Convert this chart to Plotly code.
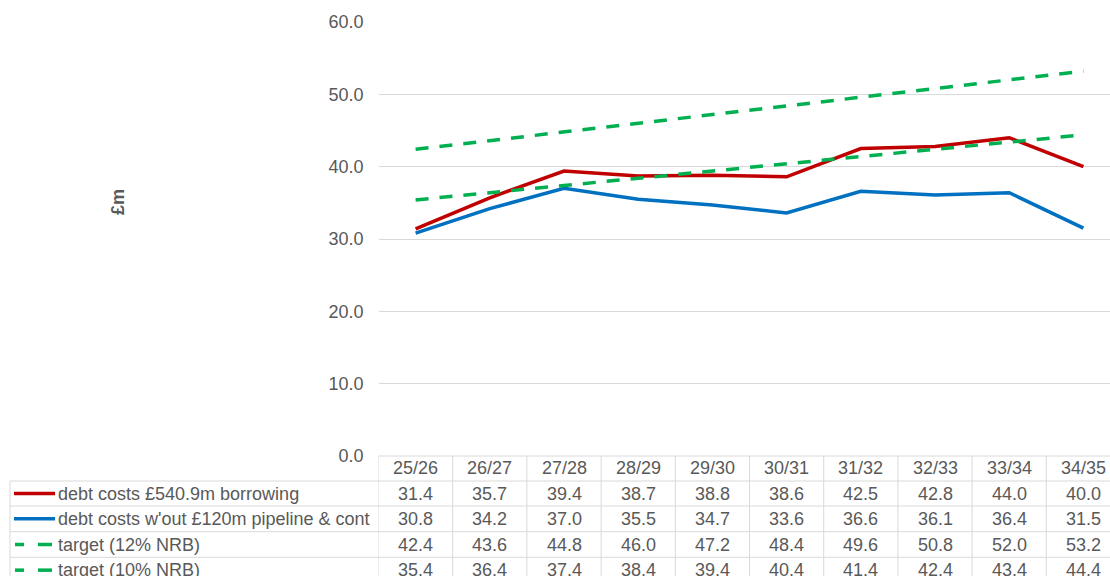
import plotly.graph_objects as go

categories = ["25/26", "26/27", "27/28", "28/29", "29/30", "30/31", "31/32", "32/33", "33/34", "34/35"]
series_names = [
    "debt costs £540.9m borrowing",
    "debt costs w'out £120m pipeline & cont",
    "target (12% NRB)",
    "target (10% NRB)",
]
debt_costs = [31.4, 35.7, 39.4, 38.7, 38.8, 38.6, 42.5, 42.8, 44.0, 40.0]
debt_costs_wout = [30.8, 34.2, 37.0, 35.5, 34.7, 33.6, 36.6, 36.1, 36.4, 31.5]
target_12 = [42.4, 43.6, 44.8, 46.0, 47.2, 48.4, 49.6, 50.8, 52.0, 53.2]
target_10 = [35.4, 36.4, 37.4, 38.4, 39.4, 40.4, 41.4, 42.4, 43.4, 44.4]
y_ticks = [0, 10, 20, 30, 40, 50, 60]

W, H = 1110, 576
FONT = "Liberation Sans, Arial, sans-serif"
FS = 18
GREY = "#595959"
GRID = "#d9d9d9"
colors = ["#C00000", "#0070C0", "#00B050", "#00B050"]
dashes = ["solid", "solid", "13px,11px", "13px,11px"]
all_series = [debt_costs, debt_costs_wout, target_12, target_10]


def px(x):
    return x / W


def py(y):
    return 1 - y / H


plot_left, plot_top, plot_bottom = 378.5, 22, 456
col_w = 74.2
x_right = (W - (plot_left + col_w / 2)) / col_w

fig = go.Figure()
for name, vals, c, d in zip(series_names, all_series, colors, dashes):
    fig.add_trace(go.Scatter(
        x=categories, y=vals, mode="lines", name=name,
        line=dict(color=c, width=3.5, dash=d), showlegend=False,
    ))

shapes = []
annotations = []

row_edges = [456, 481, 506, 531.7, 557.3, 583]
shapes.append(dict(type="line", xref="paper", yref="paper",
                   x0=px(plot_left), x1=1.0, y0=py(456), y1=py(456),
                   line=dict(color=GRID, width=1)))
for r in row_edges[1:]:
    shapes.append(dict(type="line", xref="paper", yref="paper",
                       x0=px(10), x1=1.0, y0=py(r), y1=py(r),
                       line=dict(color=GRID, width=1)))
shapes.append(dict(type="line", xref="paper", yref="paper",
                   x0=px(10), x1=px(10), y0=py(481), y1=py(583),
                   line=dict(color=GRID, width=1)))
for i in range(len(categories) + 1):
    shapes.append(dict(type="line", xref="x", yref="paper",
                       x0=i - 0.5, x1=i - 0.5, y0=py(456), y1=py(583),
                       line=dict(color=GRID, width=1)))

for c in categories:
    annotations.append(dict(x=c, xref="x", y=py(468), yref="paper",
                            text=c, showarrow=False,
                            font=dict(family=FONT, size=FS, color=GREY),
                            xanchor="center", yanchor="middle"))

for ri, (name, vals, col) in enumerate(zip(series_names, all_series, colors)):
    yc = (row_edges[ri + 1] + row_edges[ri + 2]) / 2
    if ri < 2:
        shapes.append(dict(type="line", xref="paper", yref="paper",
                           x0=px(14), x1=px(55), y0=py(yc), y1=py(yc),
                           line=dict(color=col, width=3.5)))
    else:
        for a, b in [(15, 24), (38, 52)]:
            shapes.append(dict(type="line", xref="paper", yref="paper",
                               x0=px(a), x1=px(b), y0=py(yc), y1=py(yc),
                               line=dict(color=col, width=3.5)))
    annotations.append(dict(x=px(56), xref="paper", y=py(yc), yref="paper",
                            text=name, showarrow=False,
                            font=dict(family=FONT, size=FS, color=GREY),
                            xanchor="left", yanchor="middle"))
    for c, v in zip(categories, vals):
        annotations.append(dict(x=c, xref="x", y=py(yc), yref="paper",
                                text=f"{v:.1f}", showarrow=False,
                                font=dict(family=FONT, size=FS, color=GREY),
                                xanchor="center", yanchor="middle"))

annotations.append(dict(x=px(118), xref="paper", y=py(202), yref="paper",
                        text="<b>£m</b>", showarrow=False, textangle=-90,
                        font=dict(family=FONT, size=FS, color=GREY),
                        xanchor="center", yanchor="middle"))

fig.update_layout(
    width=W, height=H,
    autosize=False,
    margin=dict(l=0, r=0, t=0, b=0, pad=0, autoexpand=False),
    paper_bgcolor="white", plot_bgcolor="white",
    font=dict(family=FONT, color=GREY),
    xaxis=dict(domain=[px(plot_left), 1.0], type="category",
               range=[-0.5, x_right], showticklabels=False, automargin=False,
               showgrid=False, zeroline=False, showline=False, ticks=""),
    yaxis=dict(domain=[py(plot_bottom), py(plot_top)], range=[0, 60],
               tickvals=y_ticks, tickformat=".1f", automargin=False,
               showgrid=True, gridcolor=GRID, gridwidth=1,
               zeroline=False, showline=False, ticks="",
               ticklabelstandoff=14,
               tickfont=dict(family=FONT, size=FS, color=GREY)),
    shapes=shapes,
    annotations=annotations,
)

fig.write_html("out.html")
